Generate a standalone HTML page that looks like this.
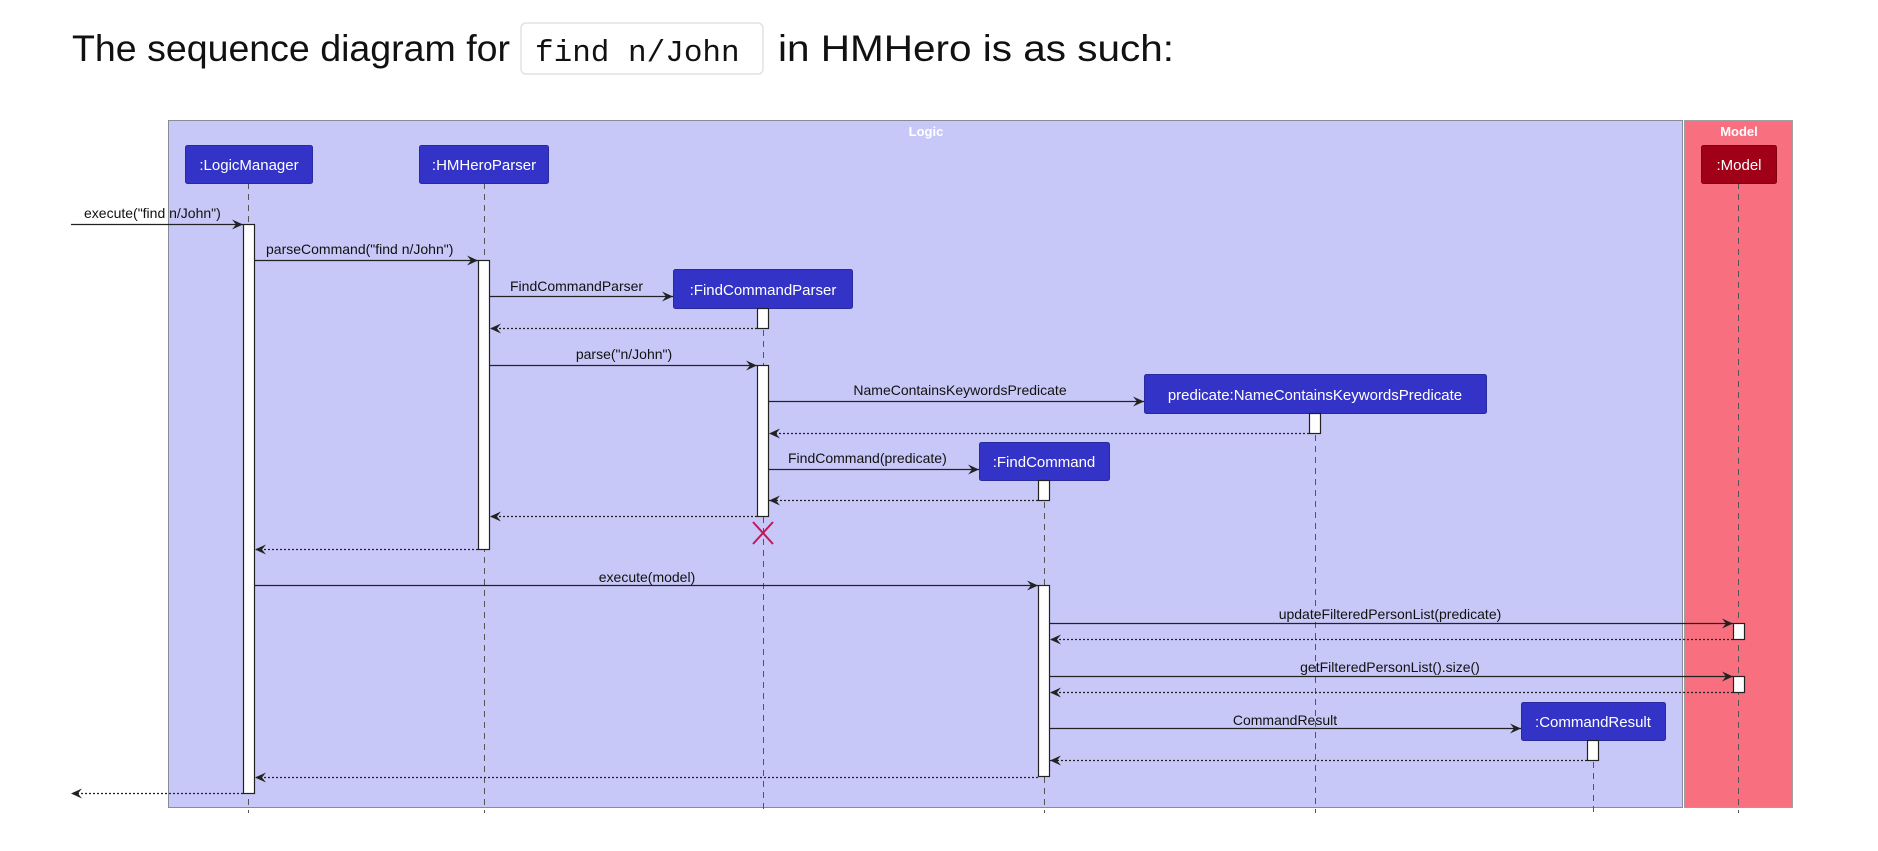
<!DOCTYPE html>
<html><head><meta charset="utf-8"><style>
body{margin:0;background:#fff;width:1878px;height:846px;overflow:hidden;}
</style></head><body>
<svg width="1878" height="846" xmlns="http://www.w3.org/2000/svg" font-family="Liberation Sans, Arial, sans-serif">
<defs>
<marker id="a" markerWidth="12" markerHeight="12" refX="11" refY="6" orient="auto" markerUnits="userSpaceOnUse"><path d="M0,1 L11,6 L0,11 L4,6 Z" fill="#222"/></marker>
</defs>
<text x="72" y="61" font-size="37" fill="#111" textLength="438" lengthAdjust="spacingAndGlyphs">The sequence diagram for</text>
<rect x="521" y="23" width="242" height="51" rx="5" fill="#fff" stroke="#e2e2e2" stroke-width="1.5"/>
<text x="535" y="61" font-size="31" font-family="Liberation Mono, monospace" fill="#111">find n/John</text>
<text x="778" y="61" font-size="37" fill="#111" textLength="396" lengthAdjust="spacingAndGlyphs">in HMHero is as such:</text>

<rect x="168.5" y="120.5" width="1514" height="687" fill="#c8c8f8" stroke="#8a8a9a"/>
<rect x="1684.5" y="120.5" width="108" height="687" fill="#f87080" stroke="#a0a0a0"/>
<text x="926" y="136" font-size="13" font-weight="bold" fill="#fff" text-anchor="middle">Logic</text>
<text x="1739" y="136" font-size="13" font-weight="bold" fill="#fff" text-anchor="middle">Model</text>

<g stroke="#555" stroke-dasharray="6,5" stroke-width="1">
<line x1="248.5" y1="183" x2="248.5" y2="813"/>
<line x1="484.5" y1="183" x2="484.5" y2="813"/>
<line x1="763.5" y1="308" x2="763.5" y2="813"/>
<line x1="1315.5" y1="413" x2="1315.5" y2="813"/>
<line x1="1044.5" y1="480" x2="1044.5" y2="813"/>
<line x1="1593.5" y1="740" x2="1593.5" y2="813"/>
<line x1="1738.5" y1="183" x2="1738.5" y2="813"/>
</g>

<g fill="#3333c8" stroke="#2a2aa0" stroke-width="1">
<rect x="185.5" y="145.5" width="127" height="38" rx="2"/>
<rect x="419.5" y="145.5" width="129" height="38" rx="2"/>
<rect x="673.5" y="269.5" width="179" height="39" rx="2"/>
<rect x="1144.5" y="374.5" width="342" height="39" rx="2"/>
<rect x="979.5" y="442.5" width="130" height="38" rx="2"/>
<rect x="1521.5" y="702.5" width="144" height="38" rx="2"/>
</g>
<rect x="1701.5" y="145.5" width="75" height="38" rx="2" fill="#a00018" stroke="#800010"/>
<g fill="#fff" font-size="15" text-anchor="middle">
<text x="249" y="170">:LogicManager</text>
<text x="484" y="170">:HMHeroParser</text>
<text x="763" y="295">:FindCommandParser</text>
<text x="1315" y="400">predicate:NameContainsKeywordsPredicate</text>
<text x="1044" y="467">:FindCommand</text>
<text x="1593" y="727">:CommandResult</text>
<text x="1739" y="170">:Model</text>
</g>

<g fill="#fff" stroke="#222" stroke-width="1.2">
<rect x="243.5" y="224.5" width="11" height="569"/>
<rect x="478.5" y="260.5" width="11" height="289"/>
<rect x="757.5" y="308.5" width="11" height="20"/>
<rect x="757.5" y="365.5" width="11" height="151"/>
<rect x="1309.5" y="413.5" width="11" height="20"/>
<rect x="1038.5" y="480.5" width="11" height="20"/>
<rect x="1038.5" y="585.5" width="11" height="191"/>
<rect x="1733.5" y="623.5" width="11" height="16"/>
<rect x="1733.5" y="676.5" width="11" height="16"/>
<rect x="1587.5" y="740.5" width="11" height="20"/>
</g>

<g stroke="#222" stroke-width="1.3" fill="none" marker-end="url(#a)">
<line x1="71" y1="224.5" x2="243" y2="224.5"/>
<line x1="255" y1="260.5" x2="478" y2="260.5"/>
<line x1="490" y1="296.5" x2="673" y2="296.5"/>
<line x1="490" y1="365.5" x2="757" y2="365.5"/>
<line x1="769" y1="401.5" x2="1144" y2="401.5"/>
<line x1="769" y1="469.5" x2="979" y2="469.5"/>
<line x1="255" y1="585.5" x2="1038" y2="585.5"/>
<line x1="1050" y1="623.5" x2="1733" y2="623.5"/>
<line x1="1050" y1="676.5" x2="1733" y2="676.5"/>
<line x1="1050" y1="728.5" x2="1521" y2="728.5"/>
</g>
<g stroke="#222" stroke-width="1.2" stroke-dasharray="2,2" fill="none" marker-end="url(#a)">
<line x1="757" y1="328.5" x2="490" y2="328.5"/>
<line x1="1309" y1="433.5" x2="769" y2="433.5"/>
<line x1="1038" y1="500.5" x2="769" y2="500.5"/>
<line x1="757" y1="516.5" x2="490" y2="516.5"/>
<line x1="478" y1="549.5" x2="255" y2="549.5"/>
<line x1="1733" y1="639.5" x2="1050" y2="639.5"/>
<line x1="1733" y1="692.5" x2="1050" y2="692.5"/>
<line x1="1587" y1="760.5" x2="1050" y2="760.5"/>
<line x1="1038" y1="777.5" x2="255" y2="777.5"/>
<line x1="243" y1="793.5" x2="71" y2="793.5"/>
</g>
<g stroke="#c0185a" stroke-width="2"><line x1="753" y1="522" x2="773" y2="544"/><line x1="773" y1="522" x2="753" y2="544"/></g>

<g font-size="14" fill="#111">
<text x="84" y="218">execute("find n/John")</text>
<text x="266" y="254">parseCommand("find n/John")</text>
<text x="510" y="291">FindCommandParser</text>
<text x="624" y="359" text-anchor="middle">parse("n/John")</text>
<text x="960" y="395" text-anchor="middle">NameContainsKeywordsPredicate</text>
<text x="788" y="463">FindCommand(predicate)</text>
<text x="647" y="582" text-anchor="middle">execute(model)</text>
<text x="1390" y="619" text-anchor="middle">updateFilteredPersonList(predicate)</text>
<text x="1390" y="672" text-anchor="middle">getFilteredPersonList().size()</text>
<text x="1285" y="725" text-anchor="middle">CommandResult</text>
</g>
</svg>
</body></html>
